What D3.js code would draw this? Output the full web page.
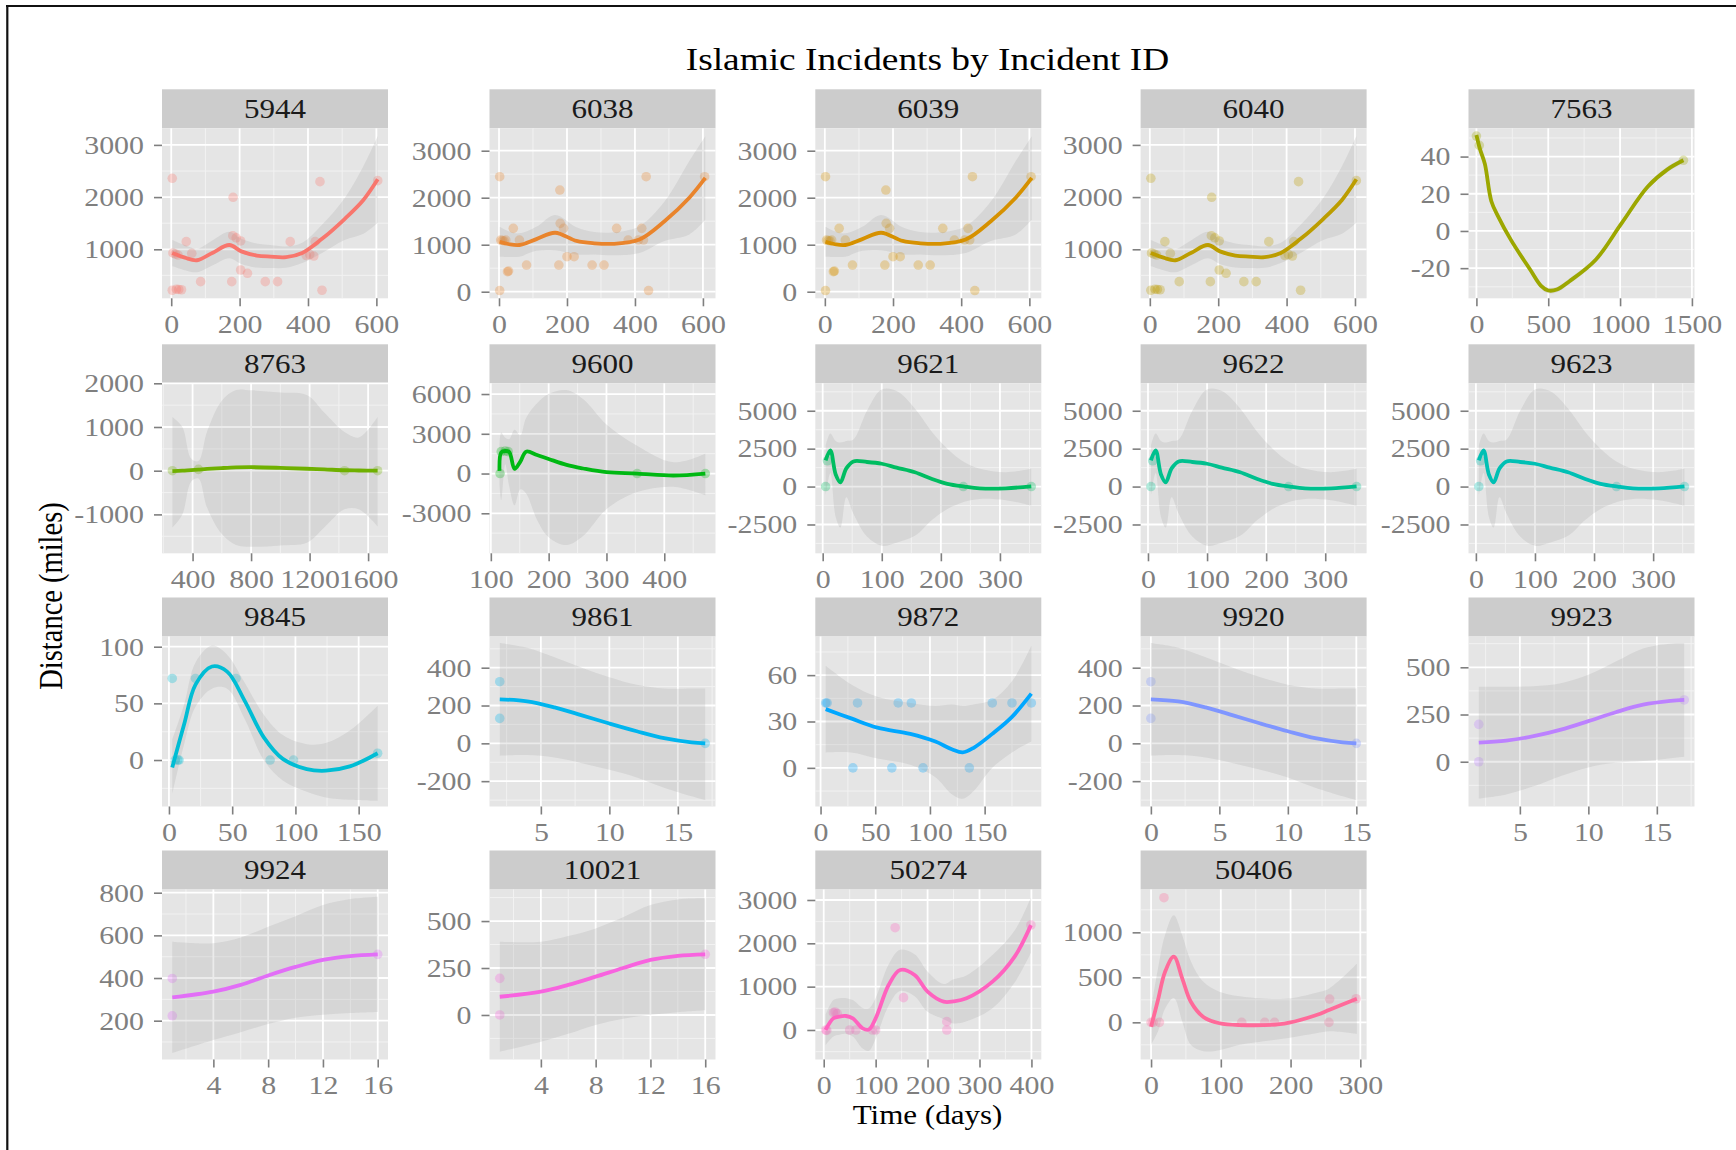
<!DOCTYPE html>
<html><head><meta charset="utf-8">
<script src="https://cdn.jsdelivr.net/npm/d3@7"></script>
<style>
html,body{margin:0;padding:0;background:#fff;}
svg{display:block;}
</style></head><body>
<svg id="chart" width="1736" height="1150"></svg>
<script>
// ---------- DATA ----------
const ids = ["5944","6038","6039","6040","7563","8763","9600","9621","9622","9623",
             "9845","9861","9872","9920","9923","9924","10021","50274","50406"];

const xTicks = [[0,200,400,600],[0,200,400,600],[0,200,400,600],[0,200,400,600],[0,500,1000,1500],
  [400,800,1200,1600],[100,200,300,400],[0,100,200,300],[0,100,200,300],[0,100,200,300],
  [0,50,100,150],[5,10,15],[0,50,100,150],[0,5,10,15],[5,10,15],
  [4,8,12,16],[4,8,12,16],[0,100,200,300,400],[0,100,200,300]];

const yTicks = [[1000,2000,3000],[0,1000,2000,3000],[0,1000,2000,3000],[1000,2000,3000],[-20,0,20,40],
  [-1000,0,1000,2000],[-3000,0,3000,6000],[-2500,0,2500,5000],[-2500,0,2500,5000],[-2500,0,2500,5000],
  [0,50,100],[-200,0,200,400],[0,30,60],[-200,0,200,400],[0,250,500],
  [200,400,600,800],[0,250,500],[0,1000,2000,3000],[0,500,1000]];

const xLimits = [[-27,634],[-28,637],[-28,635],[-27,634],[-55,1518],
  [191,1736],[97.7,488.6],[-12.5,370],[-12.5,370],[-12.5,370],
  [-5.5,173.2],[1.25,17.75],[-4.8,201.8],[-0.75,15.75],[1.25,17.75],
  [0.25,16.75],[0.25,16.75],[-16.2,419],[-15,309]];

const yLimits = [[61,3318],[-140,3477],[-140,3477],[61,3318],[-36.2,55.2],
  [-1890,2000],[-6020,6810],[-4400,6810],[-4400,6810],[-4400,6810],
  [-41,109],[-334,565],[-25,85],[-334,565],[-237,663],
  [18,815],[-237,668],[-681,3242],[-413,1476]];

// points [time, distance]
const pts5944 = [[3,2360],[3,215],[15,235],[22,230],[30,225],[44,1146],[60,923],[5,930],[12,910],[20,890],
  [86,380],[177,380],[181,1996],[180,1260],[190,1220],[203,1160],[203,603],[223,540],[275,380],[311,380],
  [348,1146],[395,880],[405,900],[417,870],[421,1146],[435,2296],[441,215],[604,2315]];
const pts6038 = [[2,2447],[2,25],[5,1100],[10,1090],[15,1080],[20,1100],[25,426],[28,440],[42,1348],[60,1100],
  [81,568],[176,568],[179,2163],[180,1455],[190,1348],[200,745],[221,745],[274,568],[309,568],[346,1348],
  [380,1100],[410,1100],[420,1348],[425,1100],[433,2447],[440,25],[605,2447]];
const pts6039 = pts6038;
const pts6040 = pts5944;
const pts7563 = [[0,51],[20,46],[1441,38]];
const pts8763 = [[262,0],[440,30],[1439,0],[1665,0]];
const pts9600 = [[116,0],[118,1650],[125,1700],[130,1650],[353,0],[471,0]];
const pts9621 = [[5,0],[8,1700],[238,0],[353,0]];
const pts9622 = pts9621;
const pts9623 = pts9621;
const pts9845 = [[2.6,72],[5,0],[7,0],[8,0],[21,72],[53,72],[80,0],[98.5,0],[165,6]];
const pts9861 = [[2,326],[2,132],[17,0]];
const pts9872 = [[4.7,42],[6,42],[33.8,42],[71,42],[83,42],[157,42],[175,42],[192.7,42],[29.6,0],[65.2,0],[93.7,0],[136,0]];
const pts9920 = [[0,326],[0,132],[15,0]];
const pts9923 = [[2,198],[2,0],[17,327]];
const pts9924 = [[1,398],[1,223],[16,511]];
const pts10021 = [[1,195],[1,0],[16,323]];
const pts50274 = [[4,0],[6,-10],[18.7,400],[22,415],[26,380],[50,0],[62,0],[94,0],[100,0],[137.5,2361],[153.7,746],[237,192],[237,0],[399,2423]];
const pts50406 = [[0,0],[3,0],[12,0],[18.5,1385],[130,0],[163,0],[177,0],[255,0],[256,259],[294,262]];

// smoother [time, fit, lower, upper]
const fit5944 = [[3,930,680,1180],[40,840,600,1080],[75,790,560,1010],[120,930,690,1170],[170,1082,830,1335],
  [205,960,720,1200],[250,880,650,1110],[290,860,640,1080],[336,850,645,1055],[383,930,735,1125],
  [441,1200,930,1470],[507,1580,1180,1980],[562,1945,1300,2590],[604,2340,1510,3170]];
const fit6038 = [[2,1064,745,1383],[30,1010,740,1280],[60,994,745,1242],[110,1120,870,1380],[165,1255,880,1632],
  [228,1080,790,1370],[280,1030,790,1270],[339,1020,775,1265],[413,1110,825,1395],[487,1500,1080,1920],
  [560,2000,1220,2780],[607,2420,1530,3310]];
const fit6039 = fit6038;
const fit6040 = fit5944;
const fit7563 = [[0,51.6,50,53],[25,44,42.5,45.5],[59,36,34.5,37.5],[104,16,14.5,17.5],[150,8,6.5,9.5],
  [240,-4.8,-6.5,-3],[376,-21,-22.5,-19.5],[450,-29.5,-31,-28],[500,-32,-33.5,-30.5],[560,-31.5,-33,-30],
  [648,-27,-28.5,-25.5],[829,-15.6,-17,-14],[1010,4.1,2.5,5.5],[1192,23.8,22.3,25.3],[1328,33,31.5,34.5],[1441,38,36.5,39.5]];
const fit8763 = [[262,-10,-1300,1230],[330,0,-1000,1000],[390,15,-250,280],[440,25,-180,220],[500,40,-850,900],
  [600,60,-1450,1600],[697,75,-1700,1845],[800,80,-1740,1840],[1000,65,-1710,1790],[1181,45,-1650,1730],
  [1300,30,-1300,1330],[1439,10,-884,884],[1536,5,-880,760],[1665,0,-1270,1230]];
const fit9600 = [[115,200,-800,2200],[118,1600,-2000,3100],[125,1700,700,2700],[132,1620,-1000,2600],[141,350,-2400,3300],
  [151,900,-1200,2900],[161,1650,-1500,4200],[180,1400,-3500,5300],[200,1100,-4800,6000],[231,650,-5400,6300],
  [260,380,-4700,5600],[300,100,-2700,3700],[353,0,-1400,2100],[416,-150,-1000,850],[471,0,-1650,1500]];
const fit9621 = [[5,1724,-600,2700],[13,2387,900,3500],[22,800,-2000,3000],[30,285,-2700,2900],[40,1200,-700,3000],
  [52,1658,-1800,3100],[75,1620,-3300,5000],[100,1505,-3900,6400],[125,1250,-3700,6300],[156,948,-3250,5150],
  [185,500,-2200,3600],[211,179,-1480,2500],[240,0,-1000,1600],[266,-113,-816,1174],[310,-113,-900,950],[353,20,-1260,1174]];
const fit9622 = fit9621;
const fit9623 = fit9621;
const fit9845 = [[2.6,-6.5,-30,18],[12,31.5,14,49],[21,66.5,47,86],[34,82.5,63,101],[46,78,63,93],[60,52,36,68],
  [75,20,0,40],[90,1,-18,22],[109,-8,-28,14],[124,-9.4,-33,15],[143,-5.6,-35,26],[165,6,-36,48]];
const fit9861 = [[2,233,-65,530],[4,222,-62,505],[6,190,-75,455],[8,148,-105,400],[10,105,-140,350],
  [12,64,-180,310],[14,27,-235,290],[16,5,-280,290],[17,0,-300,290]];
const fit9872 = [[4.7,38,10,66],[28,32,10,54],[52,26,6,46],[82,22,2,42],[105,17,-6,40],[120,12,-17,41],
  [130,10,-20,40],[140,13,-15,41],[157,22,0,44],[175,33,10,56],[192.7,48,17,79]];
const fit9920 = [[0,233,-65,530],[2,222,-62,505],[4,190,-75,455],[6,148,-105,400],[8,105,-140,350],
  [10,64,-180,310],[12,27,-235,290],[14,5,-280,290],[15,0,-300,290]];
const fit9923 = [[2,101,-195,397],[4,112,-173,397],[6,135,-130,400],[8,170,-75,415],[10,215,-30,460],
  [12,262,-6,530],[14,302,4,600],[16,322,19,625],[17,327,27,627]];
const fit9924 = [[1,309,48,570],[4,336,109,563],[6,368,146,590],[8,412,184,640],[10,452,214,690],
  [12,485,228,742],[14,503,236,770],[16,511,241,781]];
const fit10021 = [[1,97,-196,390],[4,124,-142,390],[6,160,-100,420],[8,204,-53,461],[10,250,-20,520],
  [12,293,1,585],[14,315,15,615],[16,323,25,621]];
const fit50274 = [[3.6,0,-350,350],[18.7,270,-150,690],[30,310,-110,730],[43,323,-90,735],[56,270,-150,690],
  [75,39,-430,510],[87,10,-480,500],[100,270,-200,740],[125,1038,560,1510],[147,1385,900,1850],[175,1269,780,1750],
  [200,884,420,1350],[231,653,250,1060],[250,660,150,1170],[275,731,200,1260],[325,1115,500,1730],
  [368,1700,1100,2300],[399,2420,1780,3060]];
const fit50406 = [[0,-49,-250,150],[10,250,-100,600],[20,560,150,970],[32.6,729,270,1190],[45,480,0,960],
  [57,229,-250,680],[75,60,-320,450],[98,-10,-310,340],[127,-30,-250,290],[191,-14,-180,262],
  [237,81,-120,330],[256,140,-100,380],[295,262,-130,650]];

const pointSets = [pts5944,pts6038,pts6039,pts6040,pts7563,pts8763,pts9600,pts9621,pts9622,pts9623,
  pts9845,pts9861,pts9872,pts9920,pts9923,pts9924,pts10021,pts50274,pts50406];
const fitSets = [fit5944,fit6038,fit6039,fit6040,fit7563,fit8763,fit9600,fit9621,fit9622,fit9623,
  fit9845,fit9861,fit9872,fit9920,fit9923,fit9924,fit10021,fit50274,fit50406];

const titleText = "Islamic Incidents by Incident ID";
const xTitle = "Time (days)";
const yTitle = "Distance (miles)";

// ---------- LAYOUT / STYLE ----------
const W = 1736, H = 1150;
const colX = [162, 489.5, 815.3, 1140.6, 1468.5];
const stripTop = [89.3, 344.3, 597.5, 850.5];
const panelW = 226, stripH = 39, panelH = 170;
const SX = 1.15;
const FONT = "'Liberation Serif','Times New Roman',serif";

// ggplot hue palette (polar LUV)
function hclHex(h, c, l) {
  const hr = h * Math.PI / 180;
  const U = c * Math.cos(hr), V = c * Math.sin(hr);
  const Xn = 95.047, Yn = 100, Zn = 108.883;
  const Y = l > 7.999592 ? Yn * Math.pow((l + 16) / 116, 3) : Yn * l / 903.3;
  const den = Xn + 15 * Yn + 3 * Zn;
  const un = 4 * Xn / den, vn = 9 * Yn / den;
  const Q = U / (13 * l) + un, R = V / (13 * l) + vn;
  const X = 9 * Y * Q / (4 * R);
  const Z = -X / 3 - 5 * Y + 3 * Y / R;
  const g = v => { v = v > 0.00304 ? 1.055 * Math.pow(v, 1 / 2.4) - 0.055 : 12.92 * v; return Math.round(Math.max(0, Math.min(1, v)) * 255); };
  const r = g((3.240479 * X - 1.537150 * Y - 0.498535 * Z) / 100);
  const gg = g((-0.969256 * X + 1.875992 * Y + 0.041556 * Z) / 100);
  const b = g((0.055648 * X - 0.204043 * Y + 1.057311 * Z) / 100);
  return "#" + [r, gg, b].map(v => v.toString(16).padStart(2, "0")).join("");
}
const n = ids.length;
const colors = ids.map((d, i) => hclHex(15 + 360 * i / n, 100, 65));

const svg = d3.select("#chart");
svg.append("rect").attr("width", W).attr("height", H).attr("fill", "#fff");

function stretch(sel) {
  sel.each(function () {
    const t = d3.select(this);
    const x = +t.attr("x") || 0, y = +t.attr("y") || 0;
    t.attr("x", null).attr("y", null).attr("transform", `translate(${x},${y}) scale(${SX},1)`);
  });
}
function minorBreaks(ticks, dom) {
  const step = ticks[1] - ticks[0];
  const ext = [ticks[0] - step, ...ticks, ticks[ticks.length - 1] + step];
  const out = [];
  for (let k = 0; k < ext.length - 1; k++) {
    const m = (ext[k] + ext[k + 1]) / 2;
    if (m > dom[0] && m < dom[1]) out.push(m);
  }
  return out;
}
const fmt = d => String(d);
const curve = d3.curveCatmullRom.alpha(0.5);

const defs = svg.append("defs");

ids.forEach((id, i) => {
  const col = i % 5, row = Math.floor(i / 5);
  const px = colX[col], sy = stripTop[row], py = sy + stripH;
  const x = d3.scaleLinear().domain(xLimits[i]).range([0, panelW]);
  const y = d3.scaleLinear().domain(yLimits[i]).range([panelH, 0]);
  const color = colors[i];

  // strip
  svg.append("rect").attr("x", px).attr("y", sy).attr("width", panelW).attr("height", stripH).attr("fill", "#CCCCCC");
  svg.append("text").attr("x", px + panelW / 2).attr("y", sy + stripH / 2 + 9.2)
    .attr("text-anchor", "middle").attr("font-family", FONT).attr("font-size", 27).attr("fill", "#1a1a1a")
    .text(id).call(stretch);

  const g = svg.append("g").attr("transform", `translate(${px},${py})`);
  g.append("rect").attr("width", panelW).attr("height", panelH).attr("fill", "#E5E5E5");

  // grid
  const xt = xTicks[i].filter(t => t >= xLimits[i][0] && t <= xLimits[i][1]);
  const yt = yTicks[i];
  g.selectAll(".mx").data(minorBreaks(xTicks[i], xLimits[i])).join("line")
    .attr("x1", d => x(d)).attr("x2", d => x(d)).attr("y1", 0).attr("y2", panelH)
    .attr("stroke", "#F2F2F2").attr("stroke-width", 1);
  g.selectAll(".my").data(minorBreaks(yt, yLimits[i])).join("line")
    .attr("y1", d => y(d)).attr("y2", d => y(d)).attr("x1", 0).attr("x2", panelW)
    .attr("stroke", "#F2F2F2").attr("stroke-width", 1);
  g.selectAll(".Mx").data(xt).join("line")
    .attr("x1", d => x(d)).attr("x2", d => x(d)).attr("y1", 0).attr("y2", panelH)
    .attr("stroke", "#FFFFFF").attr("stroke-width", 1.8);
  g.selectAll(".My").data(yt).join("line")
    .attr("y1", d => y(d)).attr("y2", d => y(d)).attr("x1", 0).attr("x2", panelW)
    .attr("stroke", "#FFFFFF").attr("stroke-width", 1.8);

  // clip
  defs.append("clipPath").attr("id", "clip" + i).append("rect").attr("width", panelW).attr("height", panelH);
  const layer = g.append("g").attr("clip-path", `url(#clip${i})`);

  layer.selectAll("circle").data(pointSets[i]).join("circle")
    .attr("cx", d => x(d[0])).attr("cy", d => y(d[1])).attr("r", 4.8)
    .attr("fill", color).attr("fill-opacity", 0.3);

  const fit = fitSets[i];
  layer.append("path").datum(fit)
    .attr("d", d3.area().x(d => x(d[0])).y0(d => y(d[2])).y1(d => y(d[3])).curve(curve))
    .attr("fill", "#999999").attr("fill-opacity", 0.2);
  layer.append("path").datum(fit)
    .attr("d", d3.line().x(d => x(d[0])).y(d => y(d[1])).curve(curve))
    .attr("fill", "none").attr("stroke", color).attr("stroke-width", 3.8).attr("stroke-linejoin", "round");

  // axes
  const ax = g.append("g").attr("transform", `translate(0,${panelH})`)
    .call(d3.axisBottom(x).tickValues(xt).tickFormat(fmt).tickSize(8).tickPadding(8));
  const ay = g.append("g")
    .call(d3.axisLeft(y).tickValues(yt).tickFormat(fmt).tickSize(8).tickPadding(10));
  [ax, ay].forEach(a => {
    a.select(".domain").remove();
    a.selectAll("line").attr("stroke", "#7F7F7F").attr("stroke-width", 1.6);
    a.selectAll("text").attr("font-family", FONT).attr("font-size", 26).attr("fill", "#7F7F7F").call(stretch);
  });
});

// titles
svg.append("text").attr("x", 927.5).attr("y", 70).attr("text-anchor", "middle")
  .attr("font-family", FONT).attr("font-size", 32.5).attr("fill", "#000").text(titleText).call(stretch);
svg.append("text").attr("x", 927.5).attr("y", 1124).attr("text-anchor", "middle")
  .attr("font-family", FONT).attr("font-size", 27).attr("fill", "#000").text(xTitle).call(stretch);
svg.append("text").attr("transform", `translate(62,596) scale(${SX},1) rotate(-90)`).attr("text-anchor", "middle")
  .attr("font-family", FONT).attr("font-size", 28.5).attr("fill", "#000").text(yTitle);

// frame lines (top and left edges of the screenshot)
svg.append("line").attr("x1", 6).attr("x2", W).attr("y1", 6).attr("y2", 6).attr("stroke", "#111").attr("stroke-width", 2.2);
svg.append("line").attr("x1", 7.3).attr("x2", 7.3).attr("y1", 5).attr("y2", H).attr("stroke", "#111").attr("stroke-width", 2.2);
</script></body></html>
